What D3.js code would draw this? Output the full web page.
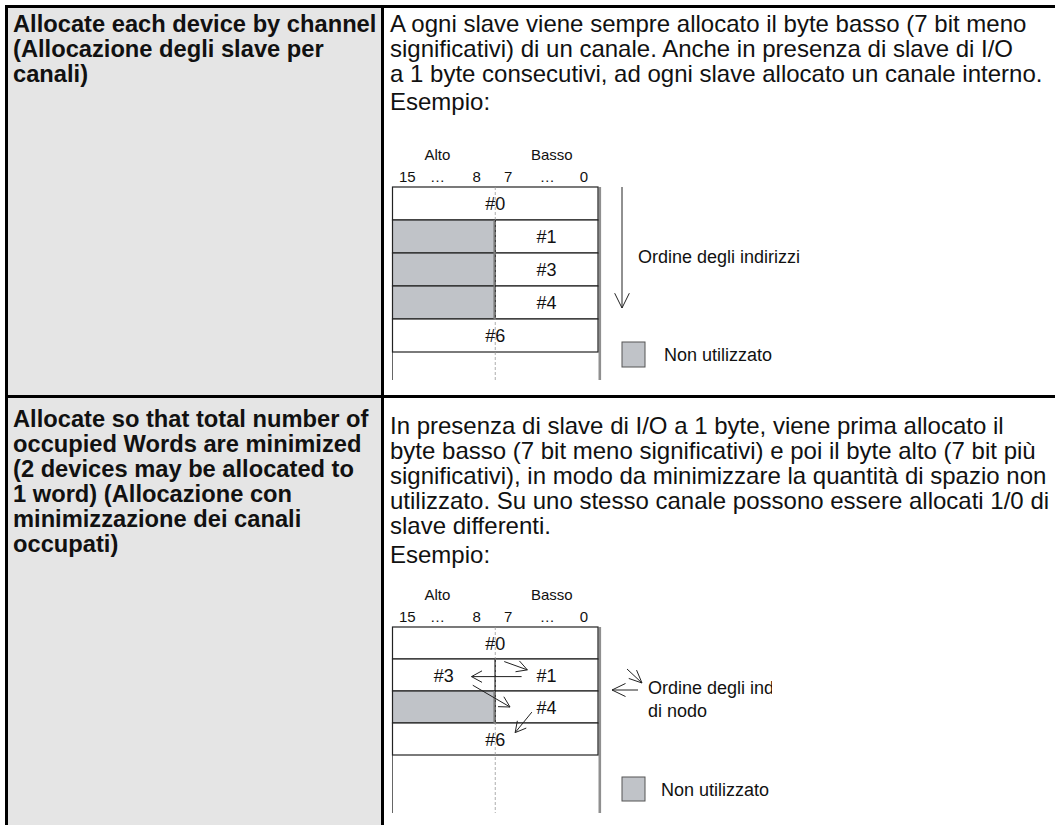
<!DOCTYPE html>
<html><head><meta charset="utf-8">
<script src="https://cdn.jsdelivr.net/npm/d3@7"></script>
<style>body{margin:0;background:#fff}svg{display:block}</style>
</head><body><div id="chart"></div>
<script>
// ---------- data ----------
const leftTexts1 = ["Allocate each device by channel", "(Allocazione degli slave per", "canali)"];
const leftTexts2 = ["Allocate so that total number of", "occupied Words are minimized", "(2 devices may be allocated to", "1 word) (Allocazione con", "minimizzazione dei canali", "occupati)"];
const rightTexts1 = ["A ogni slave viene sempre allocato il byte basso (7 bit meno", "significativi) di un canale. Anche in presenza di slave di I/O", "a 1 byte consecutivi, ad ogni slave allocato un canale interno."];
const rightTexts2 = ["In presenza di slave di I/O a 1 byte, viene prima allocato il", "byte basso (7 bit meno significativi) e poi il byte alto (7 bit più", "significativi), in modo da minimizzare la quantità di spazio non", "utilizzato. Su uno stesso canale possono essere allocati 1/0 di", "slave differenti."];
const exampleLabel = "Esempio:";
const byteHeaders = ["Alto", "Basso"];
const byteHeaderBits = [12.5, 3.6];
const bitTicks = ["15", "…", "8", "7", "…", "0"];
const bitTickPos = [14.85, 12.5, 9.45, 7.0, 3.95, 1.1];
const cells1 = [
  {row:0, hi:16, lo:0, label:"#0"},
  {row:1, hi:16, lo:8, label:null}, {row:1, hi:8, lo:0, label:"#1"},
  {row:2, hi:16, lo:8, label:null}, {row:2, hi:8, lo:0, label:"#3"},
  {row:3, hi:16, lo:8, label:null}, {row:3, hi:8, lo:0, label:"#4"},
  {row:4, hi:16, lo:0, label:"#6"}
];
const cells2 = [
  {row:0, hi:16, lo:0, label:"#0"},
  {row:1, hi:16, lo:8, label:"#3"}, {row:1, hi:8, lo:0, label:"#1"},
  {row:2, hi:16, lo:8, label:null}, {row:2, hi:8, lo:0, label:"#4"},
  {row:3, hi:16, lo:0, label:"#6"}
];
// order arrows inside diagram 2: [bitFrom,rowFrom,bitTo,rowTo]
const arrows2 = [
  [7.3, 1.08, 5.5, 1.34],
  [5.95, 1.55, 9.85, 1.55],
  [9.75, 1.82, 6.85, 2.5],
  [5.15, 2.66, 6.45, 3.3]
];
const orderLabel1 = ["Ordine degli indirizzi"];
const orderLabel2 = ["Ordine degli indirizzi", "di nodo"];
const unusedLabel = "Non utilizzato";

// ---------- drawing ----------
const W = 1055, H = 825;
const svg = d3.select("#chart").append("svg").attr("width", W).attr("height", H);
const FONT = "'Liberation Sans', Arial, Helvetica, sans-serif";
const gray = "#c0c3c8";

svg.append("rect").attr("x", 8).attr("y", 8).attr("width", 373).attr("height", H - 8).attr("fill", "#e5e5e5");
const frame = svg.append("g").attr("stroke", "#000").attr("stroke-width", 3);
frame.append("line").attr("x1", 5).attr("x2", W).attr("y1", 6.5).attr("y2", 6.5);
frame.append("line").attr("x1", 5).attr("x2", W).attr("y1", 396.5).attr("y2", 396.5);
frame.append("line").attr("x1", 6.5).attr("x2", 6.5).attr("y1", 5).attr("y2", H);
frame.append("line").attr("x1", 382.5).attr("x2", 382.5).attr("y1", 5).attr("y2", H);

function textBlock(lines, x, y0, pitch, size, weight) {
  svg.append("g").selectAll("text").data(lines).join("text")
    .attr("x", x).attr("y", (d, i) => y0 + i * pitch)
    .attr("font-family", FONT).attr("font-size", size).attr("font-weight", weight)
    .attr("fill", "#111").text(d => d);
}
textBlock(leftTexts1, 13, 31.5, 25, 23.7, "bold");
textBlock(leftTexts2, 13, 427, 25, 23.7, "bold");
textBlock(rightTexts1, 390, 31.5, 25, 24, "normal");
textBlock(rightTexts2, 390, 434, 25, 24, "normal");
textBlock([exampleLabel], 390, 110, 25, 24, "normal");
textBlock([exampleLabel], 390, 563, 25, 24, "normal");

function arrow(g, x1, y1, x2, y2, L, ang) {
  const a = Math.atan2(y2 - y1, x2 - x1);
  const p = d3.path();
  p.moveTo(x1, y1); p.lineTo(x2, y2);
  p.moveTo(x2 - L * Math.cos(a - ang), y2 - L * Math.sin(a - ang));
  p.lineTo(x2, y2);
  p.lineTo(x2 - L * Math.cos(a + ang), y2 - L * Math.sin(a + ang));
  g.append("path").attr("d", p.toString()).attr("fill", "none").attr("stroke", "#222").attr("stroke-width", 1);
}

function diagram(cfg) {
  const g = svg.append("g");
  const x = d3.scaleLinear().domain([16, 0]).range([392.5, 598]);
  const nRows = d3.max(cfg.cells, d => d.row) + 1;
  const y = d3.scaleLinear().domain([0, nRows]).range([cfg.top, cfg.top + nRows * cfg.rowH]);

  g.selectAll("text.hdr").data(byteHeaders).join("text").attr("class", "hdr")
    .attr("x", (d, i) => x(byteHeaderBits[i])).attr("y", cfg.top - 27)
    .attr("text-anchor", "middle").attr("font-family", FONT).attr("font-size", 15).attr("fill", "#111").text(d => d);
  g.selectAll("text.bit").data(bitTicks).join("text").attr("class", "bit")
    .attr("x", (d, i) => x(bitTickPos[i])).attr("y", cfg.top - 5)
    .attr("text-anchor", "middle").attr("font-family", FONT).attr("font-size", 15).attr("fill", "#111").text(d => d);

  g.append("line").attr("x1", x(16)).attr("x2", x(16)).attr("y1", y(nRows)).attr("y2", cfg.bottom)
    .attr("stroke", "#666").attr("stroke-width", 1);
  g.append("line").attr("x1", x(0) + 1.8).attr("x2", x(0) + 1.8).attr("y1", cfg.top).attr("y2", cfg.bottom)
    .attr("stroke", "#8f8f8f").attr("stroke-width", 2.6);

  g.selectAll("rect.cell").data(cfg.cells).join("rect").attr("class", "cell")
    .attr("x", d => x(d.hi)).attr("y", d => y(d.row))
    .attr("width", d => x(d.lo) - x(d.hi)).attr("height", cfg.rowH)
    .attr("fill", d => d.label ? "#fff" : gray)
    .attr("stroke", "#222").attr("stroke-width", 1.2);
  g.selectAll("line.ue").data(cfg.cells.filter(d => !d.label)).join("line").attr("class", "ue")
    .attr("x1", d => x(d.lo) - 1).attr("x2", d => x(d.lo) - 1)
    .attr("y1", d => y(d.row)).attr("y2", d => y(d.row + 1))
    .attr("stroke", "#777").attr("stroke-width", 1.6);

  g.append("line").attr("x1", x(8)).attr("x2", x(8)).attr("y1", cfg.top).attr("y2", cfg.bottom)
    .attr("stroke", "#999").attr("stroke-width", 0.8).attr("stroke-dasharray", "3,2");

  g.selectAll("text.lbl").data(cfg.cells.filter(d => d.label)).join("text").attr("class", "lbl")
    .attr("x", d => (x(d.hi) + x(d.lo)) / 2).attr("y", d => y(d.row + 0.5) + 6.5)
    .attr("text-anchor", "middle").attr("font-family", FONT).attr("font-size", 18).attr("fill", "#111").text(d => d.label);

  (cfg.arrows || []).forEach(a => arrow(g, x(a[0]), y(a[1]), x(a[2]), y(a[3]), 12, 0.5));
  return g;
}

const g1 = diagram({cells: cells1, top: 187, rowH: 33, bottom: 380});
arrow(g1, 622, 187, 622, 308, 16.5, 0.46);
g1.selectAll("text.ord").data(orderLabel1).join("text").attr("x", 638).attr("y", (d, i) => 263 + i * 23)
  .attr("font-family", FONT).attr("font-size", 18).attr("fill", "#111").text(d => d);
g1.append("rect").attr("x", 622).attr("y", 342).attr("width", 23).attr("height", 25)
  .attr("fill", gray).attr("stroke", "#555").attr("stroke-width", 1);
g1.append("text").attr("x", 664).attr("y", 361).attr("font-family", FONT).attr("font-size", 18).attr("fill", "#111").text(unusedLabel);

const g2 = diagram({cells: cells2, top: 627, rowH: 32, bottom: 813, arrows: arrows2});
arrow(g2, 638, 690, 612, 690, 15, 0.45);
arrow(g2, 627, 669, 642, 683, 14, 0.42);
svg.append("defs").append("clipPath").attr("id", "ordclip").append("rect")
  .attr("x", 640).attr("y", 660).attr("width", 132).attr("height", 70);
g2.append("g").attr("clip-path", "url(#ordclip)").selectAll("text").data(orderLabel2).join("text")
  .attr("x", 648).attr("y", (d, i) => 694 + i * 23)
  .attr("font-family", FONT).attr("font-size", 18).attr("fill", "#111").text(d => d);
g2.append("rect").attr("x", 622).attr("y", 777).attr("width", 23).attr("height", 24)
  .attr("fill", gray).attr("stroke", "#555").attr("stroke-width", 1);
g2.append("text").attr("x", 661).attr("y", 796).attr("font-family", FONT).attr("font-size", 18).attr("fill", "#111").text(unusedLabel);
</script></body></html>
